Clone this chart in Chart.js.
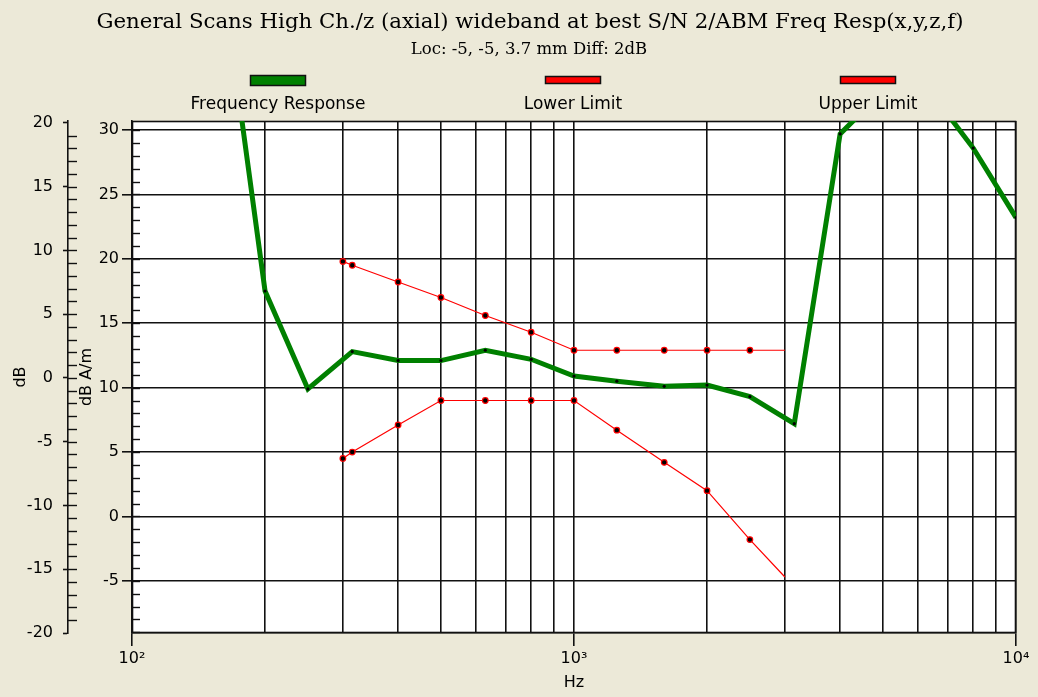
<!DOCTYPE html>
<html>
<head>
<meta charset="utf-8">
<script src="https://cdn.jsdelivr.net/npm/chart.js@4.4.1/dist/chart.umd.min.js"></script>
<style>
  html, body { margin: 0; padding: 0; background: #ece9d8; }
</style>
</head>
<body>
<canvas id="resp_chart" width="1038" height="697"></canvas>
<script>
const titleText = 'General Scans High Ch./z (axial) wideband at best S/N 2/ABM Freq Resp(x,y,z,f)'
const subtitleText = 'Loc: -5, -5, 3.7 mm Diff: 2dB'

// 1/3 octave points of the measured response (dB A/m)
const responseFreqs = [160, 200, 250, 315, 400, 500, 630, 800, 1000, 1250, 1600, 2000, 2500, 3150, 4000, 5000, 6300, 8000, 10000]
const responseValues = [42, 17.5, 9.9, 12.8, 12.1, 12.1, 12.9, 12.2, 10.9, 10.5, 10.1, 10.2, 9.3, 7.2, 29.7, 33.0, 33.3, 28.6, 23.2]

// limit mask
const limitFreqs = [300, 315, 400, 500, 630, 800, 1000, 1250, 1600, 2000, 2500, 3000]
const lowerLimit = [4.5, 5.0, 7.1, 9.0, 9.0, 9.0, 9.0, 6.7, 4.2, 2.0, -1.8, -4.7]
const upperLimit = [19.8, 19.5, 18.2, 17.0, 15.6, 14.3, 12.9, 12.9, 12.9, 12.9, 12.9, 12.9]

// axes
const freqGrid = [100, 200, 300, 400, 500, 600, 700, 800, 900, 1000, 2000, 3000, 4000, 5000, 6000, 7000, 8000, 9000, 10000]
const decadeLabels = { 100: '10²', 1000: '10³', 10000: '10⁴' }
const dbTicks = [-20, -15, -10, -5, 0, 5, 10, 15, 20]
const dbamTicks = [-5, 0, 5, 10, 15, 20, 25, 30]

const sans = 'DejaVu Sans'
const serif = 'DejaVu Serif'
const ink = '#111'
const toPoints = (xs, ys) => xs.map((x, i) => ({ x: x, y: ys[i] }))

// window background + white plot area + frame
const backdrop = {
    id: 'backdrop',
    beforeDraw(chart) {
        const { ctx, chartArea: a } = chart
        ctx.save()
        ctx.fillStyle = '#ece9d8'
        ctx.fillRect(0, 0, chart.width, chart.height)
        ctx.fillStyle = '#ffffff'
        ctx.fillRect(a.left, a.top, a.right - a.left, a.bottom - a.top)
        ctx.restore()
    },
    beforeDatasetsDraw(chart) {
        const { ctx, chartArea: a } = chart
        ctx.save()
        ctx.strokeStyle = ink
        ctx.lineWidth = 1.6
        ctx.strokeRect(a.left + 0.5, a.top + 0.5, a.right - a.left - 1, a.bottom - a.top - 1)

        // minor ticks, one per unit
        ctx.lineWidth = 1.4
        const outer = chart.scales.yOut
        for (let v = Math.ceil(outer.min) + 1; v < Math.floor(outer.max); v++) {
            const y = Math.round(outer.getPixelForValue(v)) + 0.5
            ctx.beginPath()
            ctx.moveTo(outer.right, y)
            ctx.lineTo(outer.right + 9, y)
            ctx.stroke()
        }
        const inner = chart.scales.y
        for (let v = Math.ceil(inner.min); v <= Math.floor(inner.max); v++) {
            const y = Math.round(inner.getPixelForValue(v)) + 0.5
            ctx.beginPath()
            ctx.moveTo(a.left, y)
            ctx.lineTo(a.left + 8, y)
            ctx.stroke()
        }
        ctx.restore()
    }
}

// title block, centred a little right of the page middle like the original window
const heading = {
    id: 'heading',
    afterDraw(chart) {
        const { ctx } = chart
        ctx.save()
        ctx.fillStyle = '#000'
        ctx.textAlign = 'center'
        ctx.textBaseline = 'middle'
        ctx.font = '21.3px "' + serif + '"'
        ctx.fillText(titleText, 530, 22)
        ctx.font = '16.5px "' + serif + '"'
        ctx.fillText(subtitleText, 529, 50)
        ctx.restore()
    }
}

// legend: swatch above, label below, one slot per dataset
const legendRow = {
    id: 'legendRow',
    afterDraw(chart) {
        const { ctx, chartArea: a } = chart
        const sets = chart.data.datasets
        const slot = (a.right - a.left) / sets.length
        ctx.save()
        sets.forEach((ds, i) => {
            const cx = Math.round(a.left + slot * (i + 0.5)) - 1
            const h = ds.borderWidth > 2 ? 11 : 8
            const top = Math.round(80 - h / 2)
            ctx.fillStyle = ds.borderColor
            ctx.fillRect(cx - 28, top, 56, h)
            ctx.strokeStyle = ink
            ctx.lineWidth = 1.5
            ctx.strokeRect(cx - 27.5, top + 0.5, 55, h - 1)
            ctx.fillStyle = '#000'
            ctx.font = '17px "' + sans + '"'
            ctx.textAlign = 'center'
            ctx.textBaseline = 'middle'
            ctx.fillText(ds.label, cx, 105)
        })
        ctx.restore()
    }
}

const canvas = document.querySelector('#resp_chart')

const chart = new Chart(canvas, {
    type: 'line',
    data: {
        datasets: [
            {
                label: 'Frequency Response',
                data: toPoints(responseFreqs, responseValues),
                borderColor: '#008000',
                backgroundColor: '#008000',
                borderWidth: 5,
                pointRadius: 1.6,
                pointBackgroundColor: '#000',
                pointBorderWidth: 0,
                yAxisID: 'y',
                clip: 0,
            },
            {
                label: 'Lower Limit',
                data: toPoints(limitFreqs, lowerLimit),
                borderColor: '#ff0000',
                backgroundColor: '#ff0000',
                borderWidth: 1.2,
                pointRadius: (c) => c.dataIndex === limitFreqs.length - 1 ? 0 : 2.8,
                pointBackgroundColor: '#000',
                pointBorderColor: '#ff0000',
                pointBorderWidth: 1.2,
                yAxisID: 'y',
            },
            {
                label: 'Upper Limit',
                data: toPoints(limitFreqs, upperLimit),
                borderColor: '#ff0000',
                backgroundColor: '#ff0000',
                borderWidth: 1.2,
                pointRadius: (c) => c.dataIndex === limitFreqs.length - 1 ? 0 : 2.8,
                pointBackgroundColor: '#000',
                pointBorderColor: '#ff0000',
                pointBorderWidth: 1.2,
                yAxisID: 'y',
            },
        ]
    },
    options: {
        responsive: false,
        animation: false,
        devicePixelRatio: 1,
        layout: { padding: { left: 0, right: 22, top: 121, bottom: 0 } },
        plugins: {
            legend: { display: false },
            tooltip: { enabled: false },
        },
        scales: {
            x: {
                type: 'logarithmic',
                position: 'bottom',
                min: 100,
                max: 10000,
                afterBuildTicks: (s) => { s.ticks = freqGrid.map((v) => ({ value: v })) },
                afterFit: (s) => { s.height = 64 },
                grid: {
                    color: ink,
                    lineWidth: 1.6,
                    tickLength: 13,
                    tickWidth: 1.6,
                    tickColor: (c) => decadeLabels[c.tick && c.tick.value] ? ink : 'rgba(0,0,0,0)',
                },
                border: { display: true, color: ink, width: 1.6 },
                ticks: {
                    autoSkip: false,
                    maxRotation: 0,
                    padding: 3,
                    color: '#000',
                    font: { family: sans, size: 16 },
                    callback: (v) => decadeLabels[v] || '',
                },
                title: {
                    display: true,
                    text: 'Hz',
                    color: '#000',
                    font: { family: sans, size: 16 },
                    padding: { top: 0, bottom: 5 },
                },
            },
            y: {
                type: 'linear',
                position: 'left',
                weight: 0,
                min: -9.05,
                max: 30.7,
                afterBuildTicks: (s) => { s.ticks = dbamTicks.map((v) => ({ value: v })) },
                afterFit: (s) => { s.width = 64 },
                grid: { color: ink, lineWidth: 1.6, tickLength: 10, tickColor: ink, tickWidth: 1.6 },
                border: { display: true, color: ink, width: 1.6 },
                ticks: { padding: 3, color: '#000', font: { family: sans, size: 16 } },
                title: {
                    display: true,
                    text: 'dB A/m',
                    color: '#000',
                    font: { family: sans, size: 16 },
                    padding: { top: 9 },
                },
            },
            yOut: {
                type: 'linear',
                position: 'left',
                weight: 1,
                min: -20,
                max: 20.15,
                afterBuildTicks: (s) => { s.ticks = dbTicks.map((v) => ({ value: v })) },
                afterFit: (s) => { s.width = 68 },
                grid: { drawOnChartArea: false, tickLength: 5, tickColor: ink, tickWidth: 1.6 },
                border: { display: true, color: ink, width: 1.6 },
                ticks: { padding: 10, color: '#000', font: { family: sans, size: 16 } },
                title: {
                    display: true,
                    text: 'dB',
                    color: '#000',
                    font: { family: sans, size: 16 },
                    padding: { top: 11 },
                },
            },
        },
    },
    plugins: [backdrop, heading, legendRow],
})
</script>
</body>
</html>
